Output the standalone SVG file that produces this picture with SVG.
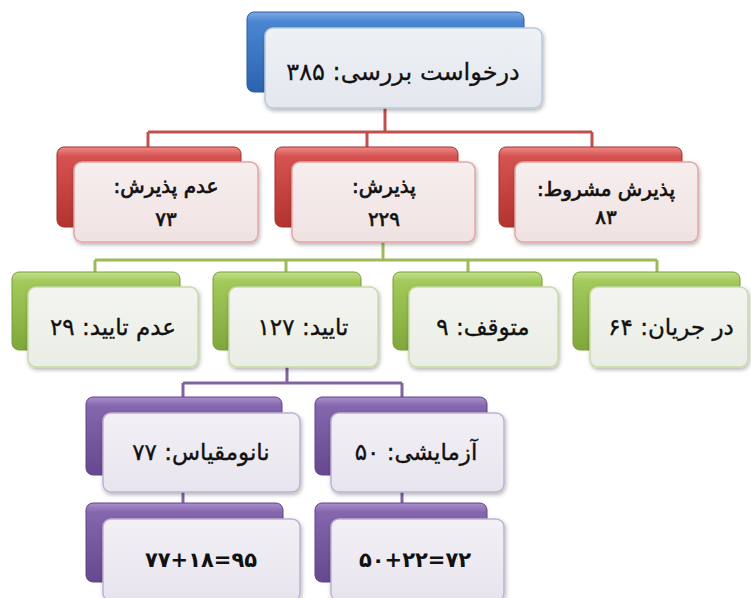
<svg xmlns="http://www.w3.org/2000/svg" width="751" height="598" viewBox="0 0 751 598">
<defs>
<linearGradient id="gBlue" x1="0" y1="0" x2="0" y2="1"><stop offset="0" stop-color="#7FAAE6"/><stop offset="0.12" stop-color="#4A86D2"/><stop offset="1" stop-color="#2C63AE"/></linearGradient>
<linearGradient id="gRed" x1="0" y1="0" x2="0" y2="1"><stop offset="0" stop-color="#EE8A88"/><stop offset="0.12" stop-color="#D65250"/><stop offset="1" stop-color="#B23330"/></linearGradient>
<linearGradient id="gGreen" x1="0" y1="0" x2="0" y2="1"><stop offset="0" stop-color="#C5E08E"/><stop offset="0.12" stop-color="#A2C95A"/><stop offset="1" stop-color="#7FA73A"/></linearGradient>
<linearGradient id="gPurple" x1="0" y1="0" x2="0" y2="1"><stop offset="0" stop-color="#A98ECB"/><stop offset="0.12" stop-color="#8466AD"/><stop offset="1" stop-color="#65488E"/></linearGradient>
<linearGradient id="fBlue" x1="0" y1="0" x2="0" y2="1"><stop offset="0" stop-color="#EEF1F5"/><stop offset="1" stop-color="#E3E7EE"/></linearGradient>
<linearGradient id="fRed" x1="0" y1="0" x2="0" y2="1"><stop offset="0" stop-color="#F7EEEE"/><stop offset="1" stop-color="#F0E2E2"/></linearGradient>
<linearGradient id="fGreen" x1="0" y1="0" x2="0" y2="1"><stop offset="0" stop-color="#F3F4F0"/><stop offset="1" stop-color="#EAEDE5"/></linearGradient>
<linearGradient id="fPurple" x1="0" y1="0" x2="0" y2="1"><stop offset="0" stop-color="#F2F0F5"/><stop offset="1" stop-color="#E8E4EE"/></linearGradient>
<filter id="sh" x="-10%" y="-10%" width="125%" height="130%"><feDropShadow dx="1" dy="2" stdDeviation="2" flood-color="#000" flood-opacity="0.3"/></filter>
</defs>
<style>
.bb{fill:url(#gBlue);stroke:#2A5C9E;stroke-width:1}
.br{fill:url(#gRed);stroke:#A32E2B;stroke-width:1}
.bg{fill:url(#gGreen);stroke:#789E35;stroke-width:1}
.bp{fill:url(#gPurple);stroke:#5E4386;stroke-width:1}
.fb{fill:url(#fBlue);stroke:#B9C9DD;stroke-width:1.5;filter:url(#sh)}
.fr{fill:url(#fRed);stroke:#E3A5A4;stroke-width:1.5;filter:url(#sh)}
.fg{fill:url(#fGreen);stroke:#C8DBA6;stroke-width:1.5;filter:url(#sh)}
.fp{fill:url(#fPurple);stroke:#BFB0D3;stroke-width:1.5;filter:url(#sh)}
text{font-family:"DejaVu Sans","Noto Sans",sans-serif;fill:#111;text-anchor:middle}
.t{font-size:23px;stroke:#111;stroke-width:0.35}
.tt{font-size:24px;stroke:#111;stroke-width:0.3}
.tb{font-size:20px;stroke:#111;stroke-width:0.7}
.eq{font-size:21px;font-weight:bold;direction:ltr}
.cr{fill:none;stroke:#C0504D;stroke-width:3}
.cg{fill:none;stroke:#9BBB59;stroke-width:3}
.cp{fill:none;stroke:#8064A2;stroke-width:3}
</style>
<g id="connectors">
<path class="cr" d="M385 100 V132 M148 132 H592 M148 132 V150 M367 132 V150 M592 132 V150"/>
<path class="cg" d="M383 235 V260 M95 260 H657 M95 260 V275 M286 260 V275 M468 260 V275 M657 260 V275"/>
<path class="cp" d="M287 360 V383 M183 383 H402 M183 383 V400 M402 383 V400 M183 470 V506 M402 470 V506"/>
</g>
<g id="n-root">
<rect class="bb" x="247" y="12" width="277" height="80" rx="7"/>
<rect class="fb" x="265" y="28" width="277" height="80" rx="8"/>
<text class="tt" x="403" y="80" direction="rtl">درخواست بررسی: ۳۸۵</text>
</g>
<g id="n-reject">
<rect class="br" x="57" y="147" width="184" height="80" rx="7"/>
<rect class="fr" x="74" y="162" width="184" height="80" rx="8"/>
<text class="tb" x="166" y="193" direction="rtl">عدم پذیرش:</text>
<text class="tb" x="166" y="226" direction="rtl">۷۳</text>
</g>
<g id="n-accept">
<rect class="br" x="275" y="147" width="183" height="80" rx="7"/>
<rect class="fr" x="292" y="162" width="183" height="80" rx="8"/>
<text class="tb" x="384" y="193" direction="rtl">پذیرش:</text>
<text class="tb" x="384" y="226" direction="rtl">۲۲۹</text>
</g>
<g id="n-conditional">
<rect class="br" x="499" y="147" width="183" height="80" rx="7"/>
<rect class="fr" x="515" y="162" width="183" height="80" rx="8"/>
<text class="tb" x="606" y="196" direction="rtl">پذیرش مشروط:</text>
<text class="tb" x="606" y="224" direction="rtl">۸۳</text>
</g>
<g id="n-notapproved">
<rect class="bg" x="12" y="272" width="168" height="78" rx="7"/>
<rect class="fg" x="28" y="287" width="170" height="80" rx="8"/>
<text class="t" x="113" y="335" direction="rtl">عدم تایید: ۲۹</text>
</g>
<g id="n-approved">
<rect class="bg" x="213" y="272" width="148" height="78" rx="7"/>
<rect class="fg" x="229" y="287" width="149" height="80" rx="8"/>
<text class="t" x="303" y="335" direction="rtl">تایید: ۱۲۷</text>
</g>
<g id="n-stopped">
<rect class="bg" x="393" y="272" width="149" height="78" rx="7"/>
<rect class="fg" x="409" y="287" width="149" height="80" rx="8"/>
<text class="t" x="483" y="335" direction="rtl">متوقف: ۹</text>
</g>
<g id="n-ongoing">
<rect class="bg" x="573" y="272" width="167" height="78" rx="7"/>
<rect class="fg" x="590" y="287" width="158" height="80" rx="8"/>
<text class="t" x="671" y="335" direction="rtl">در جریان: ۶۴</text>
</g>
<g id="n-nano">
<rect class="bp" x="86" y="397" width="196" height="78" rx="7"/>
<rect class="fp" x="103" y="413" width="197" height="79" rx="8"/>
<text class="t" x="201" y="460" direction="rtl">نانومقیاس: ۷۷</text>
</g>
<g id="n-lab">
<rect class="bp" x="315" y="397" width="172" height="78" rx="7"/>
<rect class="fp" x="331" y="413" width="173" height="79" rx="8"/>
<text class="t" x="416" y="460" direction="rtl">آزمایشی: ۵۰</text>
</g>
<g id="n-nano-sum">
<rect class="bp" x="86" y="503" width="197" height="79" rx="7"/>
<rect class="fp" x="103" y="519" width="197" height="82" rx="8"/>
<text class="eq" x="201" y="567">۷۷+۱۸=۹۵</text>
</g>
<g id="n-lab-sum">
<rect class="bp" x="315" y="503" width="172" height="79" rx="7"/>
<rect class="fp" x="331" y="519" width="173" height="82" rx="8"/>
<text class="eq" x="415" y="567">۵۰+۲۲=۷۲</text>
</g>
</svg>
